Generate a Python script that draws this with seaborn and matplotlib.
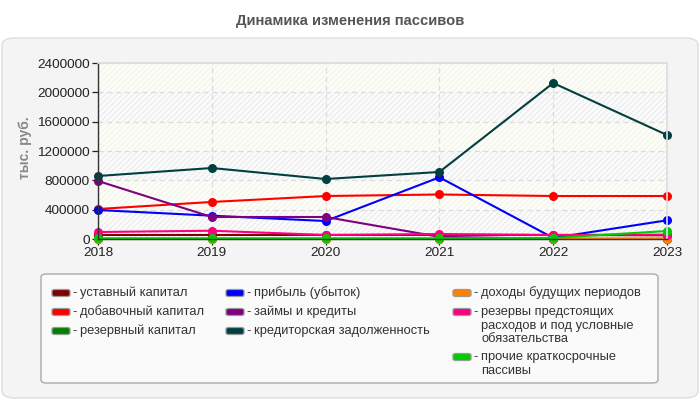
import matplotlib
matplotlib.use("Agg")
import matplotlib.pyplot as plt
import seaborn as sns
import pandas as pd
from matplotlib.patches import FancyBboxPatch

years = [2018, 2019, 2020, 2021, 2022, 2023]
series_names = [
    "уставный капитал",
    "добавочный капитал",
    "резервный капитал",
    "прибыль (убыток)",
    "займы и кредиты",
    "кредиторская задолженность",
    "доходы будущих периодов",
    "резервы предстоящих\nрасходов и под условные\nобязательства",
    "прочие краткосрочные\nпассивы",
]
ustavny = [55000, 55000, 55000, 55000, 55000, 50000]
dobavochny = [409000, 505000, 586000, 607000, 586000, 586000]
rezervny = [5000, 5000, 5000, 5000, 5000, 5000]
pribyl = [395000, 318000, 245000, 841000, 15000, 255000]
zaymy = [791000, 300000, 300000, 30000, 3000, 3000]
kreditorskaya = [859000, 968000, 818000, 914000, 2127000, 1418000]
dohody = [0, 0, 0, 0, 2000, 2000]
rezervy = [95000, 113000, 55000, 68000, 55000, 60000]
prochie = [10000, 10000, 10000, 10000, 15000, 109000]
values = [ustavny, dobavochny, rezervny, pribyl, zaymy, kreditorskaya, dohody, rezervy, prochie]
colors = ["#800000", "#ff0000", "#008000", "#0000ff", "#800080", "#004040",
          "#ff8000", "#ff0080", "#00cc00"]
yticks = [0, 400000, 800000, 1200000, 1600000, 2000000, 2400000]

rows = []
for name, vals in zip(series_names, values):
    for y, v in zip(years, vals):
        rows.append({"year": y, "value": v, "series": name})
df = pd.DataFrame(rows)

sns.set_theme(style="white")
plt.rcParams["font.family"] = ["Liberation Sans", "DejaVu Sans"]
plt.rcParams["hatch.linewidth"] = 0.7

W, H = 700.0, 400.0
def fx(x):
    return x / W
def fy(y):
    return 1 - y / H

fig = plt.figure(figsize=(7, 4), dpi=100)
fig.patch.set_facecolor("white")
panel = FancyBboxPatch((fx(2), fy(398)), fx(696), 360 / H, transform=fig.transFigure,
                       boxstyle="round,pad=0,rounding_size=0.018",
                       facecolor="#f4f4f4", edgecolor="#dddddd", linewidth=1, zorder=-10)
fig.patches.append(panel)
fig.text(0.5, fy(21), "Динамика изменения пассивов", ha="center", va="center",
         fontsize=10.6, fontweight="bold", color="#555555")

ax = fig.add_axes([fx(98), fy(239), fx(667) - fx(98), (239 - 63) / H])
ax.set_facecolor("#fcfdf6")
for i in range(len(yticks) - 1):
    if i % 2 == 0:
        ax.axhspan(yticks[i], yticks[i + 1], facecolor="#fbfbfb", edgecolor="#e9e9e9",
                   hatch="//////", linewidth=0, zorder=0)
    else:
        ax.axhspan(yticks[i], yticks[i + 1], facecolor="#fcfdf6", edgecolor="#f2f3eb",
                   hatch="//////", linewidth=0, zorder=0)

sns.lineplot(data=df, x="year", y="value", hue="series", palette=colors,
             hue_order=series_names, marker="o", markersize=6.5, markeredgewidth=0,
             linewidth=1.5, ax=ax, legend=False)

ax.set_xlim(2018, 2023)
ax.set_ylim(0, 2400000)
ax.set_xticks(years)
ax.set_yticks(yticks)
ax.set_yticklabels([str(t) for t in yticks])
ax.tick_params(axis="both", labelsize=9.7, colors="#222222", length=4, width=0.9,
               left=True, bottom=True, pad=2)
ax.grid(True, color="#dcdcdc", linestyle=(0, (4, 3)), linewidth=0.9, zorder=0.5)
ax.set_axisbelow(True)
for s in ["top", "right"]:
    ax.spines[s].set_color("#dddddd")
for s in ["left", "bottom"]:
    ax.spines[s].set_color("#333333")
    ax.spines[s].set_linewidth(1)
ax.set_xlabel("")
ax.set_ylabel("")
fig.text(fx(25), fy(148), "тыс. руб.", rotation=90, ha="center", va="center",
         fontsize=10, fontweight="bold", color="#888888")
for line in ax.lines:
    line.set_clip_on(False)

# legend box
lframe = FancyBboxPatch((fx(41), fy(383)), fx(658) - fx(41), (383 - 274) / H,
                        transform=fig.transFigure,
                        boxstyle="round,pad=0,rounding_size=0.008",
                        facecolor="#fafafa", edgecolor="#aaaaaa", linewidth=1, zorder=1)
fig.patches.append(lframe)
col_x = [52, 226, 453]
entry_pos = [(0, 293), (0, 312), (0, 331),
             (1, 293), (1, 312), (1, 331),
             (2, 293), (2, 312), (2, 357)]
line_gap = 13.7
for name, color, (col, yy) in zip(series_names, colors, entry_pos):
    x0 = col_x[col]
    sw = FancyBboxPatch((fx(x0), fy(yy + 3.5)), 18 / W, 7 / H, transform=fig.transFigure,
                        boxstyle="round,pad=0,rounding_size=0.004",
                        facecolor=color, edgecolor="#999999", linewidth=0.9, zorder=2)
    fig.patches.append(sw)
    fig.text(fx(x0 + 20.5), fy(yy), "-", ha="left", va="center", fontsize=9.3,
             color="#333333", zorder=3)
    for i, part in enumerate(name.split("\n")):
        fig.text(fx(x0 + 28), fy(yy + i * line_gap), part, ha="left", va="center",
                 fontsize=9.3, color="#333333", zorder=3)

fig.savefig("out.png", dpi=100)
